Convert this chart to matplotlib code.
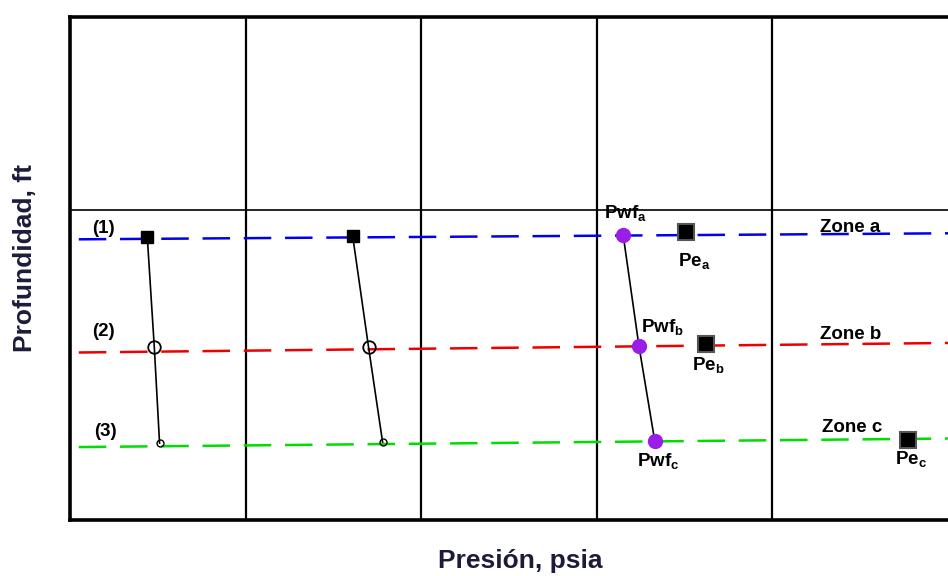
"""Perfil de presión vs. profundidad para un pozo con tres zonas (a, b, c)."""

import matplotlib.pyplot as plt

# ── Data ──────────────────────────────────────────────────────────────────────
# depth axis runs 0 (top) → 10 (bottom), pressure axis 0 → 5
X_MAX = 5.0
Y_MAX = 10.0
GRID_X = [1.0, 2.0, 3.0, 4.0]
DIVIDER_DEPTH = 3.84

# dashed zone lines: (depth at left, depth at right)
zone_names = ["Zone a", "Zone b", "Zone c"]
zone_colors = ["#0000ee", "#ee0000", "#00dd00"]
zone_left_depth = [4.42, 6.67, 8.55]
zone_right_depth = [4.30, 6.48, 8.38]
zone_x_start = 0.05

# three pressure traverses (one per time / case)
trav1_p = [0.44, 0.48, 0.51]
trav1_d = [4.37, 6.56, 8.47]
trav2_p = [1.61, 1.70, 1.78]
trav2_d = [4.36, 6.56, 8.45]
trav3_p = [3.15, 3.24, 3.33]
trav3_d = [4.33, 6.54, 8.43]

# static reservoir pressures
pe_p = [3.51, 3.62, 4.77]
pe_d = [4.27, 6.50, 8.40]

# ── Plot ──────────────────────────────────────────────────────────────────────
fig = plt.figure(figsize=(9.48, 5.76), dpi=100)
ax = fig.add_axes([70 / 948, 1 - 520 / 576, 1 - 70 / 948, (520 - 17) / 576])
ax.set_xlim(0, X_MAX)
ax.set_ylim(Y_MAX, 0)
ax.set_xticks([])
ax.set_yticks([])
for side in ["left", "top", "bottom"]:
    ax.spines[side].set_linewidth(2.6)
ax.spines["right"].set_visible(False)

for gx in GRID_X:
    ax.axvline(gx, color="black", lw=1.6, zorder=1)
ax.axhline(DIVIDER_DEPTH, color="black", lw=1.2, zorder=1)

for y0, y1, c in zip(zone_left_depth, zone_right_depth, zone_colors):
    ax.plot([zone_x_start, X_MAX], [y0, y1], color=c, lw=1.8,
            dashes=(11, 5.5), zorder=2)

# traverse lines
for p, d in [(trav1_p, trav1_d), (trav2_p, trav2_d), (trav3_p, trav3_d)]:
    ax.plot(p, d, color="black", lw=1.2, zorder=3)

# markers on traverses 1 and 2
for p, d in [(trav1_p, trav1_d), (trav2_p, trav2_d)]:
    ax.plot(p[0], d[0], marker="s", ms=8, color="black", zorder=4)
    ax.plot(p[1], d[1], marker="o", ms=9, mfc="none", mec="black",
            mew=1.3, zorder=4)
    ax.plot(p[2], d[2], marker="o", ms=5, mfc="none", mec="black",
            mew=1.0, zorder=4)

# traverse 3: flowing pressures
ax.plot(trav3_p, trav3_d, linestyle="none", marker="o", ms=10,
        color="#9a1ee8", zorder=4)

# Pe squares
ax.plot(pe_p, pe_d, linestyle="none", marker="s", ms=11, mfc="black",
        mec="#555555", mew=1.5, zorder=4)

lab = dict(fontsize=13.5, fontweight="bold", family="Liberation Sans",
           zorder=5, ha="left", va="center")
ax.text(0.125, 4.20, "(1)", **lab)
ax.text(0.125, 6.26, "(2)", **lab)
ax.text(0.137, 8.25, "(3)", **lab)

ax.text(3.04, 3.92, r"Pwf$_\mathregular{a}$", **lab)
ax.text(3.46, 4.87, r"Pe$_\mathregular{a}$", **lab)
ax.text(3.25, 6.18, r"Pwf$_\mathregular{b}$", **lab)
ax.text(3.54, 6.94, r"Pe$_\mathregular{b}$", **lab)
ax.text(3.23, 8.85, r"Pwf$_\mathregular{c}$", **lab)
ax.text(4.70, 8.81, r"Pe$_\mathregular{c}$", **lab)

zone_text_x = [4.27, 4.27, 4.28]
zone_text_d = [4.18, 6.32, 8.17]
for name, tx, td in zip(zone_names, zone_text_x, zone_text_d):
    ax.text(tx, td, name, **lab)

fig.text(25 / 948, 1 - 258 / 576, "Profundidad, ft", rotation=90,
         ha="center", va="center", fontsize=19, fontweight="bold",
         color="#1c1c3a", family="Liberation Sans")
fig.text(520 / 948, 1 - 561 / 576, "Presión, psia", ha="center",
         va="center", fontsize=19, fontweight="bold", color="#1c1c3a",
         family="Liberation Sans")

fig.savefig("out.png", dpi=100)
